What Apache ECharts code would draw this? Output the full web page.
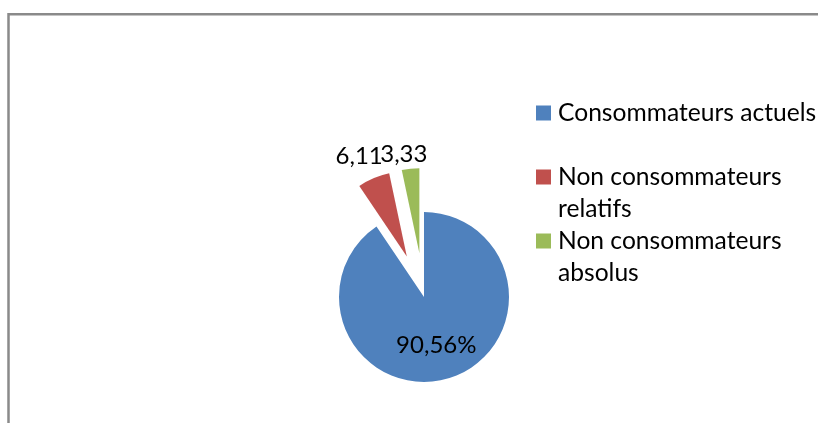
<!DOCTYPE html>
<html>
<head>
<meta charset="utf-8">
<script src="https://cdn.jsdelivr.net/npm/echarts@6/dist/echarts.min.js"></script>
<style>
  html, body { margin: 0; padding: 0; background: #fff; }
  #chart { width: 818px; height: 423px; }
</style>
</head>
<body>
<div id="chart"></div>
<script>
// categories and values
var categories = ['Consommateurs actuels', 'Non consommateurs relatifs', 'Non consommateurs absolus'];
var values = [90.56, 6.11, 3.33];
// legend wording as wrapped in the picture (blank first line keeps the icon on line one)
var legendTexts = [' \nConsommateurs actuels\n ', ' \nNon consommateurs\nrelatifs', ' \nNon consommateurs\nabsolus'];
var labelSuffix = ['%', '', ''];
var colors = ['#4F81BD', '#C0504D', '#9BBB59'];

var FONT = 'Lato, "Liberation Sans", sans-serif';
var LINE_H = 32;

var chart = echarts.init(document.getElementById('chart'));

// outside label line lengths, so the labels land where Excel put them
var labelLineLens = [8, 24, 15];

var pieData = categories.map(function (name, i) {
    var item = {
        name: name,
        value: values[i],
        selected: i > 0,
        labelLine: { length: labelLineLens[i] }
    };
    if (i === 0) {
        item.label = { position: 'inside', offset: [-1, 5] };
    }
    return item;
});

chart.setOption({
    animation: false,
    color: colors,
    graphic: [{
        type: 'rect',
        silent: true,
        shape: { x: 8.5, y: 14.3, width: 900, height: 500 },
        style: { fill: 'none', stroke: '#8a8a8a', lineWidth: 2.5 }
    }],
    legend: {
        orient: 'vertical',
        left: 536,
        top: 65,
        padding: 0,
        itemWidth: 15,
        itemHeight: 15,
        itemGap: -LINE_H,
        icon: 'rect',
        selectedMode: false,
        data: categories,
        formatter: function (name) {
            return legendTexts[categories.indexOf(name)];
        },
        textStyle: {
            fontFamily: FONT,
            fontSize: 24.6,
            lineHeight: LINE_H,
            color: '#000',
            padding: [0, 0, 0, 2]
        }
    },
    series: [{
        type: 'pie',
        center: [424, 297],
        radius: 85,
        startAngle: 90,
        clockwise: true,
        selectedMode: 'multiple',
        selectedOffset: 44,
        avoidLabelOverlap: false,
        labelLayout: { hideOverlap: false },
        emphasis: { disabled: true },
        itemStyle: { borderWidth: 0 },
        label: {
            show: true,
            position: 'outside',
            distanceToLabelLine: -18.5,
            fontFamily: FONT,
            fontSize: 24,
            color: '#000',
            formatter: function (p) {
                return p.value.toFixed(2).replace('.', ',') + labelSuffix[p.dataIndex];
            }
        },
        labelLine: { show: false, length: 8, length2: 0 },
        data: pieData
    }]
});
</script>
</body>
</html>
